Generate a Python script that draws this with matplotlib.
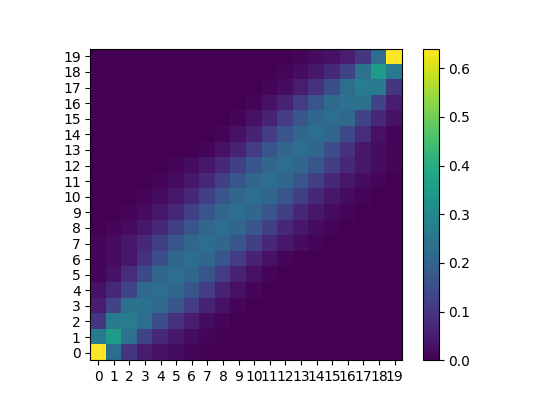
import numpy as np
import matplotlib
matplotlib.use('Agg')
import matplotlib.pyplot as plt

# matrix values, row 0 = bottom row
row_00 = [.64, .23, .10, .05, .03, .02, .01, 0, 0, 0, 0, 0, 0, 0, 0, 0, 0, 0, 0, 0]
row_01 = [.26, .35, .24, .13, .07, .04, .02, .01, 0, 0, 0, 0, 0, 0, 0, 0, 0, 0, 0, 0]
row_02 = [.10, .26, .27, .23, .15, .09, .05, .02, .01, 0, 0, 0, 0, 0, 0, 0, 0, 0, 0, 0]
row_03 = [.05, .13, .24, .24, .22, .17, .11, .06, .03, .01, 0, 0, 0, 0, 0, 0, 0, 0, 0, 0]
row_04 = [.03, .07, .13, .22, .23, .21, .17, .11, .06, .03, .01, 0, 0, 0, 0, 0, 0, 0, 0, 0]
row_05 = [.01, .03, .08, .14, .21, .23, .21, .17, .11, .06, .03, .01, 0, 0, 0, 0, 0, 0, 0, 0]
row_06 = [.01, .02, .04, .09, .15, .21, .23, .21, .17, .11, .06, .03, .01, 0, 0, 0, 0, 0, 0, 0]
row_07 = [.01, .02, .04, .07, .12, .17, .21, .23, .21, .17, .12, .07, .04, .02, .01, 0, 0, 0, 0, 0]
row_08 = [0, .01, .02, .04, .07, .12, .17, .21, .23, .21, .17, .12, .07, .04, .02, .01, 0, 0, 0, 0]
row_09 = [0, 0, .01, .02, .04, .07, .12, .17, .21, .23, .21, .17, .12, .07, .04, .02, .01, 0, 0, 0]
row_10 = [0, 0, 0, .01, .02, .04, .07, .12, .17, .21, .23, .21, .17, .12, .07, .04, .02, .01, 0, 0]
row_11 = [0, 0, 0, 0, .01, .02, .04, .07, .12, .17, .21, .23, .21, .17, .12, .07, .04, .02, .01, 0]
row_12 = [0, 0, 0, 0, 0, .01, .02, .04, .07, .12, .17, .21, .23, .21, .17, .12, .07, .04, .02, .01]
row_13 = [0, 0, 0, 0, 0, 0, 0, .01, .03, .06, .11, .17, .21, .23, .21, .15, .09, .04, .02, .01]
row_14 = [0, 0, 0, 0, 0, 0, 0, 0, .01, .03, .06, .11, .17, .21, .23, .21, .14, .08, .03, .01]
row_15 = [0, 0, 0, 0, 0, 0, 0, 0, 0, .01, .03, .06, .11, .17, .21, .23, .22, .13, .07, .03]
row_16 = [0, 0, 0, 0, 0, 0, 0, 0, 0, 0, .01, .03, .06, .11, .17, .22, .24, .24, .13, .05]
row_17 = [0, 0, 0, 0, 0, 0, 0, 0, 0, 0, 0, .01, .02, .05, .09, .15, .23, .27, .26, .10]
row_18 = [0, 0, 0, 0, 0, 0, 0, 0, 0, 0, 0, 0, .01, .02, .04, .07, .13, .24, .35, .26]
row_19 = [0, 0, 0, 0, 0, 0, 0, 0, 0, 0, 0, 0, 0, .01, .02, .03, .05, .10, .23, .64]

matrix = np.array([row_00, row_01, row_02, row_03, row_04, row_05, row_06,
                   row_07, row_08, row_09, row_10, row_11, row_12, row_13,
                   row_14, row_15, row_16, row_17, row_18, row_19])
labels = list(range(20))

plt.figure(figsize=(5.4, 4.05), dpi=100)
plt.imshow(matrix, origin='lower', cmap='viridis', vmin=0.0, vmax=0.64)
plt.xticks(labels, labels)
plt.yticks(labels, labels)
plt.colorbar()
plt.savefig('out.png', dpi=100)
